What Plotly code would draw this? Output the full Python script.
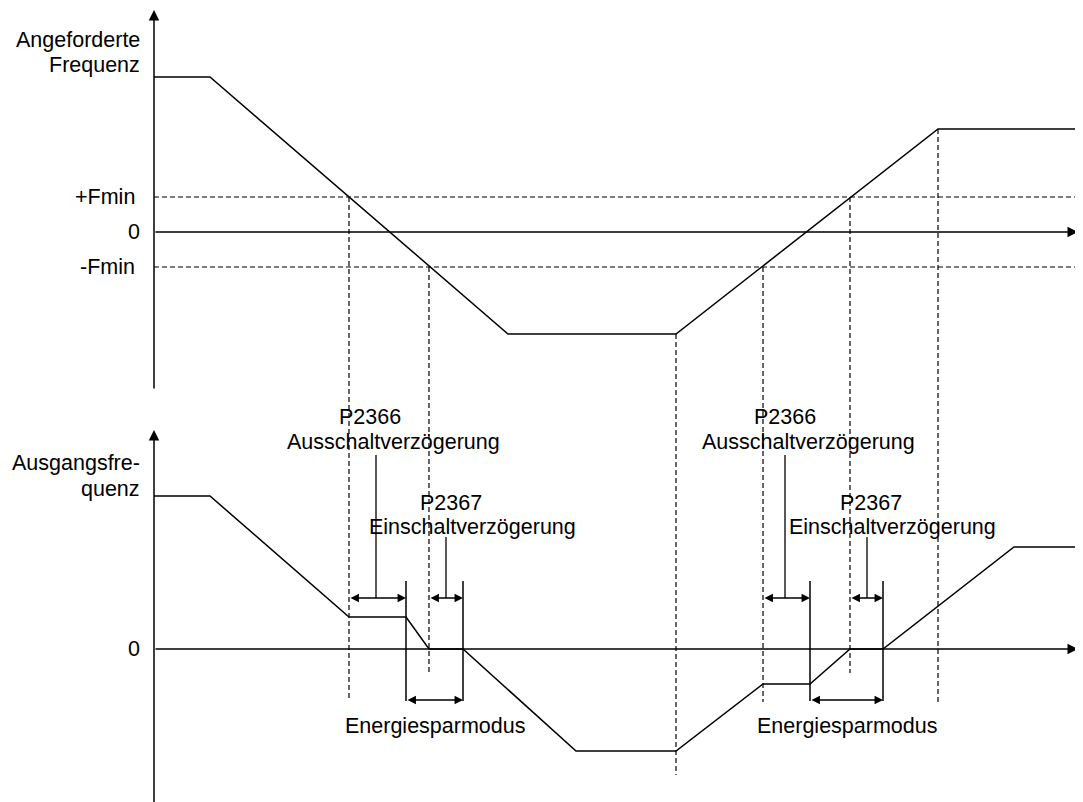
import plotly.graph_objects as go

# time axis is in px-like units from the y axis origin, frequencies relative to each panel's zero
t_req = [0, 56, 354, 522, 784, 924]
f_req = [155, 155, -102, -102, 103, 103]
f_min = 35

t_out = [0, 56, 195, 252, 275, 309, 422, 522, 609, 656, 696, 729, 860, 926]
f_out = [153, 153, 32, 32, 0, 0, -102, -102, -35, -35, 0, 0, 102, 102]

# vertical dashed helper lines (event times), start on the requested curve, end in the lower panel
t_events = [195, 275, 522, 609, 696, 784]
f_events_top = [35, -35, -102, -35, 35, 103]
f_events_end = [-51, -23, -126, -53, -24, -53]

# delays: P2366 off delay and P2367 on delay (start, end)
off_delay = [(195, 252), (609, 656)]
on_delay = [(275, 309), (696, 729)]
sleep_mode = [(252, 309), (656, 729)]
off_leader_t = [222, 631]
on_leader_t = [292, 713]

PANEL_GAP = 417  # distance between the two zero lines
PAGE_OFFSET = 8  # default body margin of the html page
FONT = "Liberation Sans, Arial, sans-serif"

fig = go.Figure()

def line(x, y, yaxis="y", dash="solid", width=1.5):
    fig.add_trace(go.Scatter(x=x, y=y, mode="lines", yaxis=yaxis, hoverinfo="skip",
                             line=dict(color="black", width=width, dash=dash)))

def arrow(x0, y0, x1, y1, yref="y", both=False, width=1.5, size=1.3):
    fig.add_annotation(x=x1, y=y1, ax=x0, ay=y0, xref="x", yref=yref, axref="x", ayref=yref,
                       text="", showarrow=True, arrowhead=2, startarrowhead=2,
                       arrowside="end+start" if both else "end",
                       arrowsize=size, startarrowsize=size, arrowwidth=width,
                       arrowcolor="black", standoff=0, startstandoff=0)

def label(x, y, s, yref="y", anchor="center"):
    fig.add_annotation(x=x, y=y, xref="x", yref=yref, text=s, showarrow=False,
                       xanchor=anchor, yanchor="middle",
                       font=dict(family=FONT, size=21.5, color="black"))

# upper panel: requested frequency
line(t_req, f_req)
line([0, t_req[-1]], [f_min, f_min], dash="5px,3px", width=1.2)
line([0, t_req[-1]], [-f_min, -f_min], dash="5px,3px", width=1.2)
arrow(0, -158, 0, 222, size=1.4)
arrow(0, 0, 924, 0, size=1.4)

# event lines spanning both panels (drawn in lower panel units)
for t, ft, fe in zip(t_events, f_events_top, f_events_end):
    line([t, t], [ft + PANEL_GAP, fe], yaxis="y2", dash="5px,3px", width=1.2)

# lower panel: output frequency
line(t_out, f_out, yaxis="y2")
arrow(0, -160, 0, 219, yref="y2", size=1.4)
arrow(0, 0, 924, 0, yref="y2", size=1.4)

for (a, b), lt in zip(off_delay, off_leader_t):
    arrow(a, 51, b, 51, yref="y2", both=True, width=1.3)
    line([lt, lt], [194, 51], yaxis="y2", width=1.3)
for (a, b), lt in zip(on_delay, on_leader_t):
    arrow(a, 51, b, 51, yref="y2", both=True, width=1.3)
    line([lt, lt], [112, 51], yaxis="y2", width=1.3)
for a, b in sleep_mode:
    line([a, a], [68, -52], yaxis="y2")
    line([b, b], [68, -52], yaxis="y2")
    arrow(a, -51, b, -51, yref="y2", both=True, width=1.3)

# texts
label(-12, 192, "Angeforderte", anchor="right")
label(-12, 167, "Frequenz", anchor="right")
label(-17, f_min, "+Fmin", anchor="right")
label(-12, 0, "0", anchor="right")
label(-17, -f_min, "-Fmin", anchor="right")

label(-12, 186, "Ausgangsfre-", yref="y2", anchor="right")
label(-12, 160, "quenz", yref="y2", anchor="right")
label(-12, 0, "0", yref="y2", anchor="right")

for x_p, x_a in [(216, 239), (631, 654)]:
    label(x_p, 232, "P2366", yref="y2")
    label(x_a, 207, "Ausschaltverzögerung", yref="y2")
for x_p, x_e in [(297, 318), (717, 738)]:
    label(x_p, 146, "P2367", yref="y2")
    label(x_e, 122, "Einschaltverzögerung", yref="y2")
for a, b in sleep_mode:
    label((a + b) / 2, -77, "Energiesparmodus", yref="y2")

hidden = dict(visible=False, showgrid=False, zeroline=False, fixedrange=True)
fig.update_layout(
    width=1083, height=802,
    margin=dict(l=0, r=0, t=0, b=0),
    paper_bgcolor="white", plot_bgcolor="white",
    showlegend=False,
    xaxis=dict(range=[-154 + PAGE_OFFSET, 929 + PAGE_OFFSET], **hidden),
    yaxis=dict(range=[-570 - PAGE_OFFSET, 232 - PAGE_OFFSET], domain=[0, 1], **hidden),
    yaxis2=dict(range=[-153 - PAGE_OFFSET, 649 - PAGE_OFFSET], domain=[0, 1],
                overlaying="y", **hidden),
)

fig.write_html("out.html")
